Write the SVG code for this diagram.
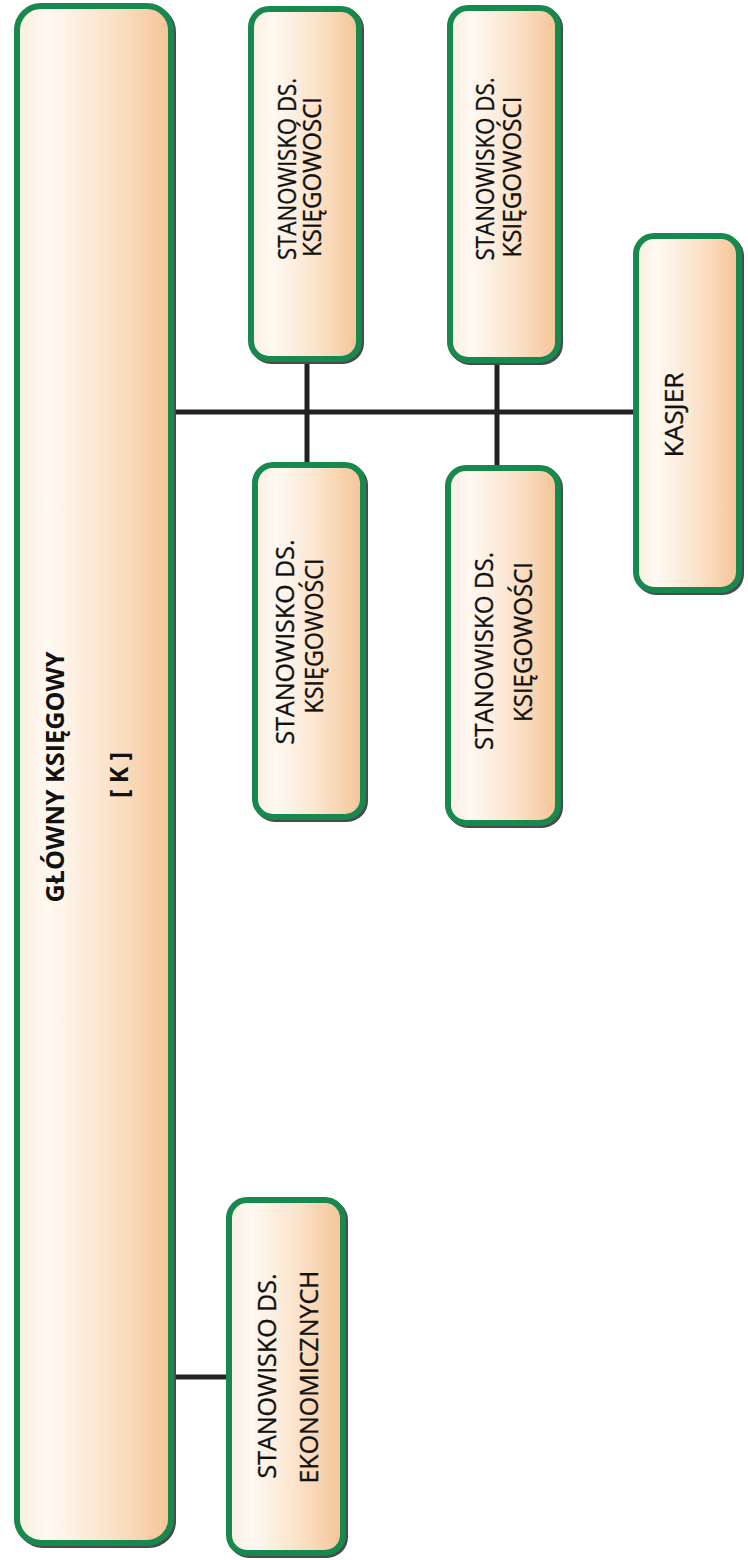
<svg xmlns="http://www.w3.org/2000/svg" width="748" height="1560" viewBox="0 0 748 1560">
<style>
.box{fill:url(#peach);stroke:#17884e;stroke-width:6}
.shadow{fill:none;stroke:#4a4a4a;stroke-width:6}
.lbl{font-family:"Open Sans","Liberation Sans",sans-serif;font-size:26px;fill:#111;stroke:#111;stroke-width:0.35;text-anchor:middle}
.main{font-weight:bold;font-size:25px;stroke-width:0}
.conn{stroke:#222;stroke-width:5;fill:none}
</style>
<defs>
<linearGradient id="peach" x1="0" y1="0" x2="1" y2="0">
<stop offset="0" stop-color="#fbeee0"/>
<stop offset="0.2" stop-color="#fef9f2"/>
<stop offset="0.6" stop-color="#fbe3cb"/>
<stop offset="1" stop-color="#f5c496"/>
</linearGradient>
</defs>
<rect width="748" height="1560" fill="#ffffff"/>
<g id="connectors">
<line class="conn" x1="172" y1="412" x2="636" y2="412"/>
<line class="conn" x1="307" y1="360" x2="307" y2="465"/>
<line class="conn" x1="497" y1="360" x2="497" y2="469"/>
<line class="conn" x1="172" y1="1377" x2="229" y2="1377"/>
</g>
<g id="glowny">
<rect class="shadow" x="19" y="8" width="154" height="1537" rx="24"/>
<rect class="box" x="17" y="6" width="154" height="1537" rx="24"/>
<text class="lbl main" transform="translate(64,777) rotate(-90)" textLength="251" lengthAdjust="spacingAndGlyphs">GŁÓWNY KSIĘGOWY</text>
<text class="lbl main" transform="translate(128,775) rotate(-90)">[ K ]</text>
</g>
<g id="ksiegowosc1">
<rect class="shadow" x="253" y="11" width="108" height="350" rx="18"/>
<rect class="box" x="251" y="9" width="108" height="350" rx="18"/>
<text class="lbl" transform="translate(296,169) rotate(-90)" textLength="182" lengthAdjust="spacingAndGlyphs">STANOWISKO DS.</text>
<text class="lbl" transform="translate(321,177) rotate(-90)" textLength="160" lengthAdjust="spacingAndGlyphs">KSIĘGOWOŚCI</text>
</g>
<g id="ksiegowosc2">
<rect class="shadow" x="452" y="10" width="108" height="352" rx="18"/>
<rect class="box" x="450" y="8" width="108" height="352" rx="18"/>
<text class="lbl" transform="translate(494,169) rotate(-90)" textLength="183" lengthAdjust="spacingAndGlyphs">STANOWISKO DS.</text>
<text class="lbl" transform="translate(521,177) rotate(-90)" textLength="161" lengthAdjust="spacingAndGlyphs">KSIĘGOWOŚCI</text>
</g>
<g id="ksiegowosc3">
<rect class="shadow" x="257" y="467" width="108" height="352" rx="18"/>
<rect class="box" x="255" y="465" width="108" height="352" rx="18"/>
<text class="lbl" transform="translate(294,642) rotate(-90)" textLength="205" lengthAdjust="spacingAndGlyphs">STANOWISKO DS.</text>
<text class="lbl" transform="translate(323,636) rotate(-90)" textLength="155" lengthAdjust="spacingAndGlyphs">KSIĘGOWOŚCI</text>
</g>
<g id="ksiegowosc4">
<rect class="shadow" x="450" y="470" width="110" height="355" rx="18"/>
<rect class="box" x="448" y="468" width="110" height="355" rx="18"/>
<text class="lbl" transform="translate(493,651) rotate(-90)" textLength="198" lengthAdjust="spacingAndGlyphs">STANOWISKO DS.</text>
<text class="lbl" transform="translate(532,642) rotate(-90)" textLength="160" lengthAdjust="spacingAndGlyphs">KSIĘGOWOŚCI</text>
</g>
<g id="kasjer">
<rect class="shadow" x="638" y="238" width="103" height="354" rx="18"/>
<rect class="box" x="636" y="236" width="103" height="354" rx="18"/>
<text class="lbl" transform="translate(683,415) rotate(-90)" textLength="85" lengthAdjust="spacingAndGlyphs">KASJER</text>
</g>
<g id="ekonomiczne">
<rect class="shadow" x="231" y="1202" width="114" height="353" rx="18"/>
<rect class="box" x="229" y="1200" width="114" height="353" rx="18"/>
<text class="lbl" transform="translate(276,1376) rotate(-90)" textLength="205" lengthAdjust="spacingAndGlyphs">STANOWISKO DS.</text>
<text class="lbl" transform="translate(318,1377) rotate(-90)" textLength="213" lengthAdjust="spacingAndGlyphs">EKONOMICZNYCH</text>
</g>
</svg>
